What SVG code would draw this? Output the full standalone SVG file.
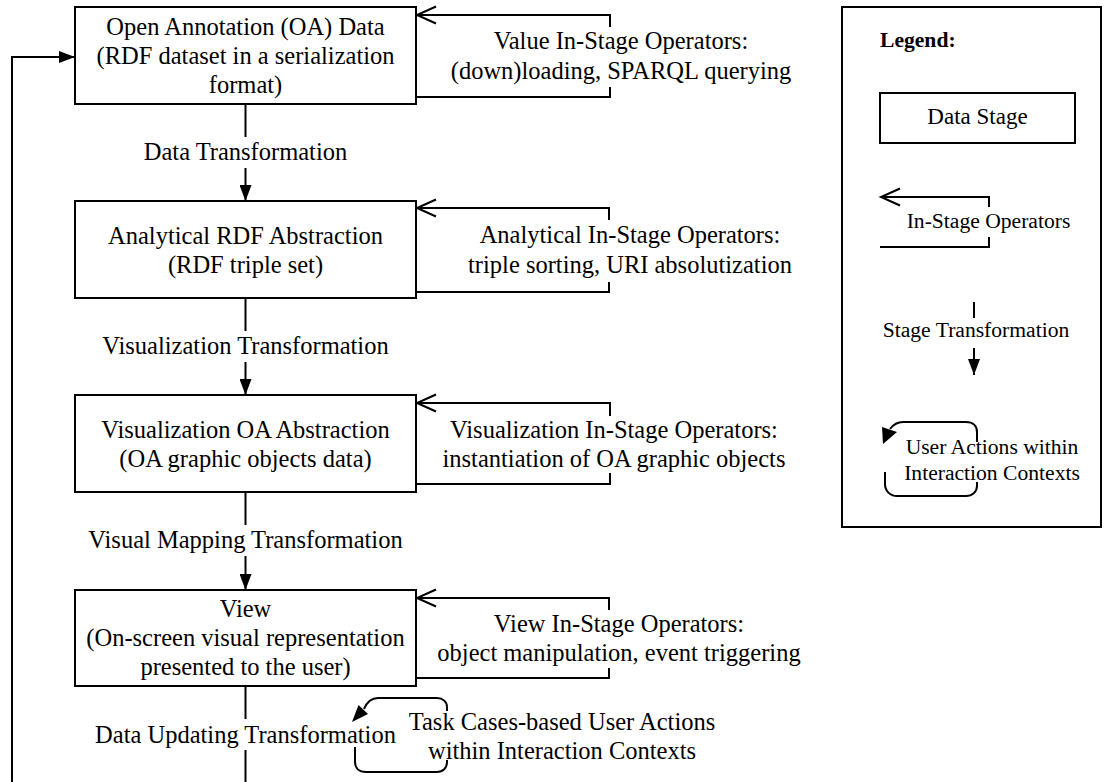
<svg xmlns="http://www.w3.org/2000/svg" width="1107" height="782" viewBox="0 0 1107 782">
<style>
  .box { fill: #ffffff; stroke: #000000; stroke-width: 2; }
  .ln { fill: none; stroke: #000000; stroke-width: 2; }
  .t { font-family: "Liberation Serif", "Times New Roman", serif; font-size: 24.5px; fill: #000000; text-anchor: middle; }
  .lg { font-family: "Liberation Serif", "Times New Roman", serif; font-size: 21.6px; fill: #000000; text-anchor: middle; }
  .hd { font-family: "Liberation Serif", "Times New Roman", serif; font-size: 21.6px; font-weight: bold; fill: #000000; }
  .head { fill: #000000; stroke: none; }
</style>
<defs>
  <marker id="fill" markerUnits="userSpaceOnUse" viewBox="0 0 16 12" refX="16" refY="6" markerWidth="16" markerHeight="12" orient="auto">
    <path d="M0,0 L16,6 L0,12 z" fill="#000000"/>
  </marker>
  <marker id="open" markerUnits="userSpaceOnUse" viewBox="-2 -2 23 21" refX="19" refY="8.5" markerWidth="23" markerHeight="21" orient="auto" overflow="visible">
    <path d="M0,0 L19,8.5 L0,17" fill="none" stroke="#000000" stroke-width="2"/>
  </marker>
</defs>

<g id="connectors">
  <!-- main stage transformations -->
  <path class="ln" d="M245.5,104 V137"/>
  <path class="ln" d="M245.5,168 V201" marker-end="url(#fill)"/>
  <path class="ln" d="M245.5,298 V331"/>
  <path class="ln" d="M245.5,362 V395" marker-end="url(#fill)"/>
  <path class="ln" d="M245.5,492 V525"/>
  <path class="ln" d="M245.5,556 V590" marker-end="url(#fill)"/>
  <path class="ln" d="M245.5,686 V719"/>
  <path class="ln" d="M245.5,750 V782"/>
  <!-- feedback loop -->
  <path class="ln" d="M12,782 V57 H75" marker-end="url(#fill)"/>
  <!-- in-stage operators -->
  <path class="ln" d="M610,27 V15 H417" marker-end="url(#open)"/>
  <path class="ln" d="M610,87 V97 H416"/>
  <path class="ln" d="M609,220 V208 H417" marker-end="url(#open)"/>
  <path class="ln" d="M609,282 V292 H416"/>
  <path class="ln" d="M610,416 V403 H417" marker-end="url(#open)"/>
  <path class="ln" d="M610,473 V484 H416"/>
  <path class="ln" d="M609,610 V598 H417" marker-end="url(#open)"/>
  <path class="ln" d="M609,668 V678 H416"/>
  <!-- user actions loop -->
  <path class="ln" d="M447,711 L447,707 C447,702 443,698 437,698 L378,698 C372,698 367,702 364,709"/>
  <polygon class="head" points="358.5,705 368,714 352,722"/>
  <path class="ln" d="M355,747 L355,762 C355,768 359,772 366,772 L437,772 C443,772 447,768 447,762 L447,760"/>
</g>

<g id="node-oa-data">
  <rect class="box" x="75" y="7" width="341" height="97"/>
  <text class="t" x="245.5" y="34.5">Open Annotation (OA) Data</text>
  <text class="t" x="245.5" y="63.5">(RDF dataset in a serialization</text>
  <text class="t" x="245.5" y="92.5">format)</text>
</g>
<g id="node-analytical">
  <rect class="box" x="75" y="201" width="341" height="97"/>
  <text class="t" x="245.5" y="244">Analytical RDF Abstraction</text>
  <text class="t" x="245.5" y="273">(RDF triple set)</text>
</g>
<g id="node-visualization">
  <rect class="box" x="75" y="395" width="341" height="97"/>
  <text class="t" x="245.5" y="438">Visualization OA Abstraction</text>
  <text class="t" x="245.5" y="467">(OA graphic objects data)</text>
</g>
<g id="node-view">
  <rect class="box" x="75" y="590" width="341" height="96"/>
  <text class="t" x="245.5" y="617">View</text>
  <text class="t" x="245.5" y="646">(On-screen visual representation</text>
  <text class="t" x="245.5" y="675">presented to the user)</text>
</g>

<g id="labels">
  <text class="t" x="245.5" y="160">Data Transformation</text>
  <text class="t" x="245.5" y="354">Visualization Transformation</text>
  <text class="t" x="245.5" y="548">Visual Mapping Transformation</text>
  <text class="t" x="245.5" y="743">Data Updating Transformation</text>

  <text class="t" x="621" y="48.5">Value In-Stage Operators:</text>
  <text class="t" x="621" y="78.5">(down)loading, SPARQL querying</text>
  <text class="t" x="630" y="243">Analytical In-Stage Operators:</text>
  <text class="t" x="630" y="273">triple sorting, URI absolutization</text>
  <text class="t" x="614" y="438">Visualization In-Stage Operators:</text>
  <text class="t" x="614" y="467">instantiation of OA graphic objects</text>
  <text class="t" x="619" y="632">View In-Stage Operators:</text>
  <text class="t" x="619" y="661">object manipulation, event triggering</text>

  <text class="t" x="562" y="730">Task Cases-based User Actions</text>
  <text class="t" x="562" y="759">within Interaction Contexts</text>
</g>

<g id="legend">
  <rect class="box" x="842" y="7" width="259" height="520"/>
  <text class="hd" x="880" y="47">Legend:</text>
  <rect class="box" x="880" y="93" width="195" height="50"/>
  <text class="lg" x="977.5" y="124" style="font-size:23px">Data Stage</text>

  <path class="ln" d="M989,207 V197 H881" marker-end="url(#open)"/>
  <path class="ln" d="M880,247 H989 V237"/>
  <text class="lg" x="988.5" y="228">In-Stage Operators</text>

  <path class="ln" d="M974,302 V318"/>
  <text class="lg" x="976" y="337">Stage Transformation</text>
  <path class="ln" d="M974,348 V375" marker-end="url(#fill)"/>

  <path class="ln" d="M977,442 L977,432 C977,426 973,422 966,422 L903,422 C897,422 893,425 890,429"/>
  <polygon class="head" points="882,427 897,432 883,444"/>
  <path class="ln" d="M885,472 L885,484 C885,491 890,496 897,496 L966,496 C972,496 977,492 977,486 L977,482"/>
  <text class="lg" x="992" y="454">User Actions within</text>
  <text class="lg" x="992" y="480">Interaction Contexts</text>
</g>
</svg>
